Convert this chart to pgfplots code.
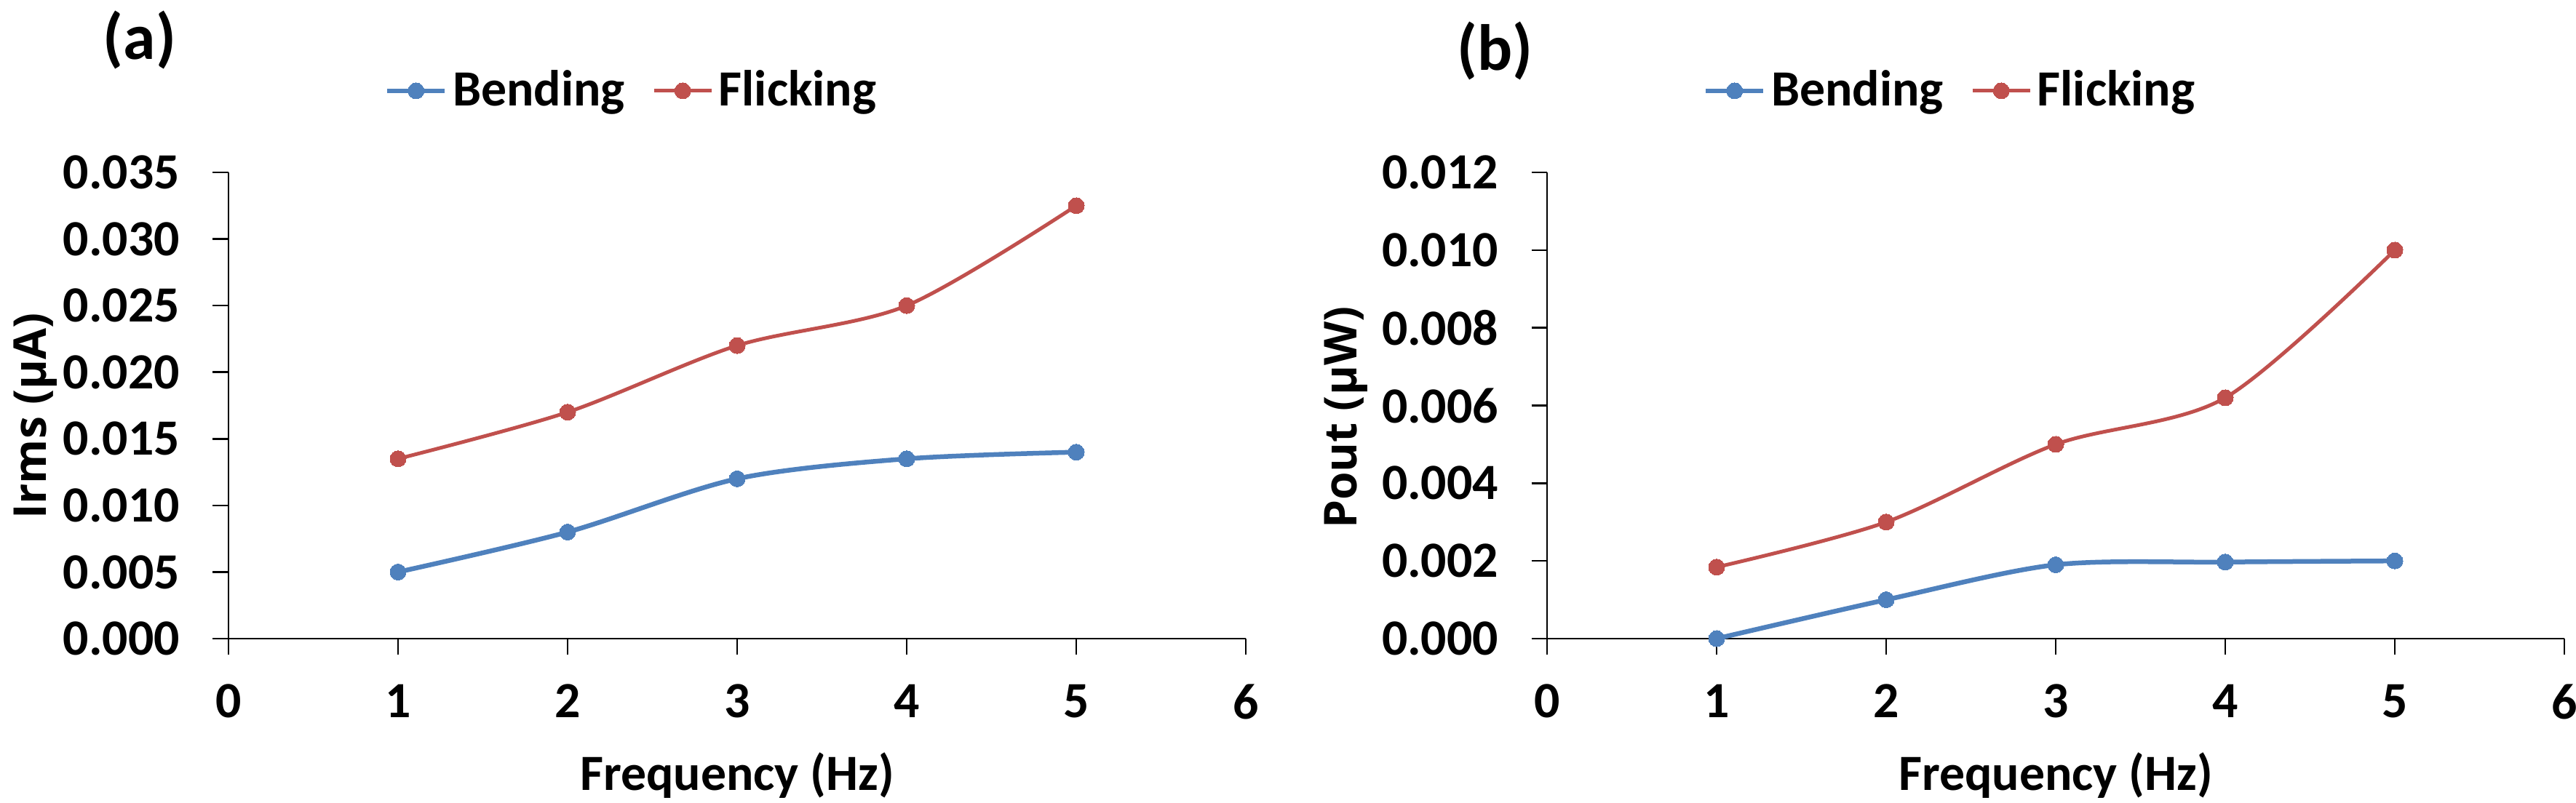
\documentclass[border=0pt]{standalone}
\usepackage{fontspec}
\setmainfont{Carlito}
\newfontfamily\osans{Open Sans}
\usepackage{pgfplots}
\pgfplotsset{compat=1.18}
\definecolor{cblue}{HTML}{4F81BD}
\definecolor{cred}{HTML}{C0504D}
\pgfplotsset{
 excel/.style={
  scale only axis, width=279.6bp, height=128.2bp,
  xmin=0, xmax=6, ymin=0,
  axis lines*=left,
  axis line style={line width=0.5bp, black},
  xtick={0,1,2,3,4,5,6},
  tick align=outside, major tick length=4.3bp,
  tick style={line width=0.5bp, black},
  minor tick num=0,
  /pgf/number format/assume math mode=true,
  tick label style={font=\fontsize{14}{14}\selectfont\bfseries, inner sep=0pt},
  yticklabel style={/pgf/number format/fixed, /pgf/number format/fixed zerofill, /pgf/number format/precision=3},
  scaled y ticks=false,
  xticklabel shift=8.1bp,
  yticklabel shift=8.9bp,
  xlabel={Frequency (Hz)},
  xlabel style={font=\fontsize{14}{14}\selectfont\bfseries, at={(axis description cs:0.5,-0.326)}, anchor=base, inner sep=0pt},
  ylabel style={font=\osans\fontsize{12.5}{12.5}\selectfont\bfseries, anchor=center, inner sep=0pt},
  clip=false,
  legend columns=2,
  legend style={draw=none, fill=none, font=\fontsize{14}{14}\selectfont\bfseries, at={(axis description cs:0.398,1.175)}, anchor=center, /tikz/every even column/.append style={column sep=6bp}, nodes={inner xsep=1.5bp, inner ysep=1pt}},
  legend image code/.code={\draw[mark repeat=2,mark phase=2,##1] plot coordinates {(0bp,0bp) (7.9bp,0bp) (15.8bp,0bp)};},
 },
 bend/.style={color=cblue, line width=1.3bp, smooth, mark=*, mark size=2.2bp, mark options={solid, line width=0pt, fill=cblue}},
 flick/.style={color=cred, line width=1.0bp, smooth, mark=*, mark size=2.2bp, mark options={solid, line width=0pt, fill=cred}},
}
\begin{document}
\begin{tikzpicture}
\path[use as bounding box] (0,0) rectangle (708bp,220.8bp);
\begin{axis}[excel, at={(62.8bp,45.2bp)}, anchor=south west,
  ymax=0.035, ytick={0,0.005,0.010,0.015,0.020,0.025,0.030,0.035},
  ylabel={Irms (µA)}, ylabel style={at={(axis description cs:-0.190,0.477)}}]
\addplot[bend] coordinates {(1,0.005) (2,0.008) (3,0.012) (4,0.0135) (5,0.014)};
\addlegendentry{Bending}
\addplot[flick] coordinates {(1,0.0135) (2,0.017) (3,0.022) (4,0.025) (5,0.0325)};
\addlegendentry{Flicking}
\node[font=\fontsize{18}{18}\selectfont\bfseries] at (rel axis cs:-0.0873,1.284) {(a)};
\end{axis}
\begin{axis}[excel, at={(425.2bp,45.2bp)}, anchor=south west,
  ymax=0.012, ytick={0,0.002,0.004,0.006,0.008,0.010,0.012},
  ylabel={Pout (µW)}, ylabel style={at={(axis description cs:-0.1976,0.474)}}]
\addplot[bend] coordinates {(1,0) (2,0.001) (3,0.0019) (4,0.00197) (5,0.002)};
\addlegendentry{Bending}
\addplot[flick] coordinates {(1,0.00184) (2,0.003) (3,0.005) (4,0.0062) (5,0.010)};
\addlegendentry{Flicking}
\node[font=\fontsize{18}{18}\selectfont\bfseries] at (rel axis cs:-0.0515,1.26) {(b)};
\end{axis}
\end{tikzpicture}
\end{document}
